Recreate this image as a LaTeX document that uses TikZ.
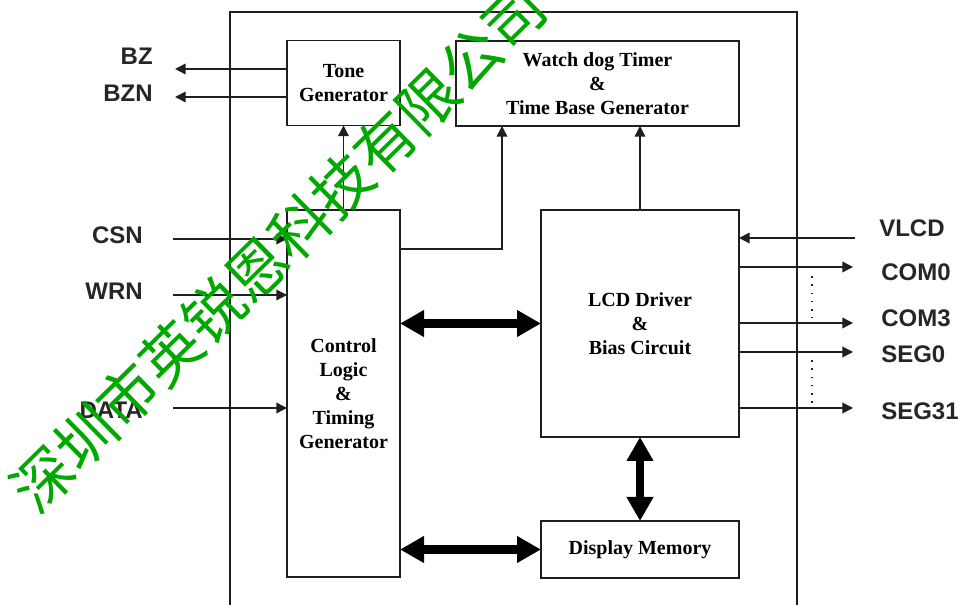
\documentclass[tikz,border=0pt]{standalone}
\usepackage{fontspec}
\setmainfont{Liberation Serif}
\setsansfont{Liberation Sans}
\newfontfamily\cjk{Noto Sans CJK SC}
\usetikzlibrary{arrows.meta}
\newdimen\pxu \pxu=0.75pt

\begin{document}
\begin{tikzpicture}[x=\pxu,y=-\pxu,line join=miter]
\colorlet{linec}{black!88}
\definecolor{wmc}{RGB}{0,168,0}

\tikzset{
block/.style={draw=linec, line width=1.4pt, inner sep=0pt, outer sep=0pt, align=center, font=\bfseries\fontsize{15}{18}\selectfont},
pinlabel/.style={font=\sffamily\bfseries\fontsize{18}{20}\selectfont, text=black!85, inner sep=0pt},
sig/.style={draw=linec, line width=1.1pt, -{Triangle[length=8pt,width=8pt]}},
bus/.style={draw=black, line width=6.5pt, {Triangle[length=18pt,width=19pt]}-{Triangle[length=18pt,width=19pt]}},
chipframe/.style={draw=linec, line width=1.4pt},
dotline/.style={draw=linec, line width=1.2pt, dash pattern=on 1.2pt off 5pt},
wmark/.style={text=wmc, font=\cjk\fontsize{45}{45}\selectfont, inner sep=0pt}
}

\useasboundingbox (0,0) rectangle (961,605);

% chip outline
\draw[chipframe] (230,605) -- (230,12) -- (797,12) -- (797,605);

% blocks
\node[block, minimum width=113*\pxu, minimum height=85*\pxu] (tone) at (343.5,83) {Tone\\Generator};
\node[block, minimum width=283*\pxu, minimum height=85*\pxu] (wdt) at (597.5,83.5) {Watch dog Timer\\\&\\Time Base Generator};
\node[block, minimum width=113*\pxu, minimum height=367*\pxu] (ctrl) at (343.5,393.5) {Control\\Logic\\\&\\Timing\\Generator};
\node[block, minimum width=198*\pxu, minimum height=227*\pxu] (lcd) at (640,323.5) {LCD Driver\\\&\\Bias Circuit};
\node[block, minimum width=198*\pxu, minimum height=57*\pxu] (dmem) at (640,549.5) {Display Memory};

% left pins
\node[pinlabel, anchor=east] (bz) at (153,56) {BZ};
\node[pinlabel, anchor=east] (bzn) at (153,93) {BZN};
\node[pinlabel, anchor=east] (csn) at (143,235) {CSN};
\node[pinlabel, anchor=east] (wrn) at (143,291) {WRN};
\node[pinlabel, anchor=east] (data) at (143,410) {DATA};

\coordinate (bzend) at (175,69);
\coordinate (bznend) at (175,97);
\coordinate (csnbeg) at (173,239);
\coordinate (wrnbeg) at (173,295);
\coordinate (databeg) at (173,408);

\draw[sig] (bzend -| tone.west) -- (bzend);
\draw[sig] (bznend -| tone.west) -- (bznend);
\draw[sig] (csnbeg) -- (csnbeg -| ctrl.west);
\draw[sig] (wrnbeg) -- (wrnbeg -| ctrl.west);
\draw[sig] (databeg) -- (databeg -| ctrl.west);

% right pins
\node[pinlabel, anchor=west] (vlcd) at (879,228) {VLCD};
\node[pinlabel, anchor=west] (com0) at (881,272) {COM0};
\node[pinlabel, anchor=west] (com3) at (881,318) {COM3};
\node[pinlabel, anchor=west] (seg0) at (881,354) {SEG0};
\node[pinlabel, anchor=west] (seg31) at (881,411) {SEG31};

\coordinate (vlcdbeg) at (855,238);
\coordinate (com0end) at (853,267);
\coordinate (com3end) at (853,323);
\coordinate (seg0end) at (853,352);
\coordinate (seg31end) at (853,408);

\draw[sig] (vlcdbeg) -- (vlcdbeg -| lcd.east);
\draw[sig] (com0end -| lcd.east) -- (com0end);
\draw[sig] (com3end -| lcd.east) -- (com3end);
\draw[sig] (seg0end -| lcd.east) -- (seg0end);
\draw[sig] (seg31end -| lcd.east) -- (seg31end);

\draw[dotline] (812,276) -- (812,318);
\draw[dotline] (812,360) -- (812,405);

% internal links
\coordinate (wdtin) at (502,249);
\draw[sig] (ctrl.north) -- (tone.south);
\draw[sig] (wdtin -| ctrl.east) -- (wdtin) -- (wdtin |- wdt.south);
\draw[sig] (lcd.north) -- (lcd.north |- wdt.south);

\draw[bus] (ctrl.east |- lcd.west) -- (lcd.west);
\draw[bus] (ctrl.east |- dmem.west) -- (dmem.west);
\draw[bus] (lcd.south) -- (dmem.north);

% watermark
\node[wmark, rotate=44.5] (wm) at (278,248) {深圳市英锐恩科技有限公司};
\end{tikzpicture}
\end{document}
